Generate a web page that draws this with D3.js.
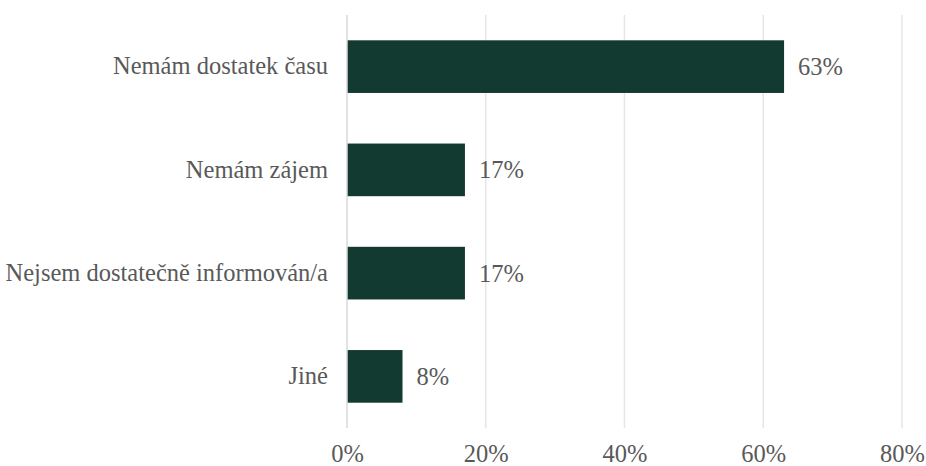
<!DOCTYPE html>
<html>
<head>
<meta charset="utf-8">
<script src="https://cdn.jsdelivr.net/npm/d3@7/dist/d3.min.js"></script>
</head>
<body style="margin:0">
<svg id="chart" width="926" height="466"></svg>
<script>
// Reasons given, share of respondents
const categories = ["Nemám dostatek času", "Nemám zájem", "Nejsem dostatečně informován/a", "Jiné"];
const values = [0.63, 0.17, 0.17, 0.08];
const tickValues = [0, 0.2, 0.4, 0.6, 0.8];

const FONT = '"Liberation Serif"';
const FONT_SIZE = "24.5px";
const TEXT_COLOR = "#595959";

const W = 926, H = 466;
const margin = { top: 15, right: 24, bottom: 38, left: 347 };
const innerW = W - margin.left - margin.right;
const innerH = H - margin.top - margin.bottom;

const svg = d3.select("#chart");
const g = svg.append("g").attr("transform", `translate(${margin.left},${margin.top})`);

const x = d3.scaleLinear().domain([0, 0.8]).range([0, innerW]);
const y = d3.scaleBand().domain(categories).range([0, innerH]).paddingInner(0.49).paddingOuter(0.245);

const pct = d3.format(".0%");

function styleText(sel) {
  sel.style("fill", TEXT_COLOR)
     .style("font-family", FONT)
     .style("font-size", FONT_SIZE);
}

// vertical gridlines
g.append("g")
  .selectAll("line")
  .data(tickValues.filter(d => d > 0))
  .join("line")
  .attr("x1", d => x(d)).attr("x2", d => x(d))
  .attr("y1", 0).attr("y2", innerH)
  .attr("stroke", "#e6e6e6")
  .attr("stroke-width", 1.5);

// bars
g.append("g")
  .selectAll("rect")
  .data(categories)
  .join("rect")
  .attr("x", x(0))
  .attr("y", d => y(d))
  .attr("width", (d, i) => x(values[i]) - x(0))
  .attr("height", y.bandwidth())
  .attr("fill", "#123a31");

// baseline at 0%
g.append("line")
  .attr("x1", x(0)).attr("x2", x(0))
  .attr("y1", 0).attr("y2", innerH)
  .attr("stroke", "#d9d9d9")
  .attr("stroke-width", 1.5);

// value labels
g.append("g")
  .selectAll("text")
  .data(categories)
  .join("text")
  .attr("x", (d, i) => x(values[i]) + 14)
  .attr("y", d => y(d) + y.bandwidth() / 2)
  .attr("dy", "0.35em")
  .call(styleText)
  .text((d, i) => pct(values[i]));

// category axis
const yAxis = d3.axisLeft(y).tickSize(0).tickPadding(19);
const ya = g.append("g").call(yAxis).attr("font-family", null);
ya.select(".domain").remove();
ya.selectAll("text").call(styleText);

// percentage axis
const xAxis = d3.axisBottom(x).tickValues(tickValues).tickFormat(pct).tickSize(0).tickPadding(17);
const xa = g.append("g").attr("transform", `translate(0,${innerH})`).call(xAxis).attr("font-family", null);
xa.select(".domain").remove();
xa.selectAll("text").call(styleText);
</script>
</body>
</html>
